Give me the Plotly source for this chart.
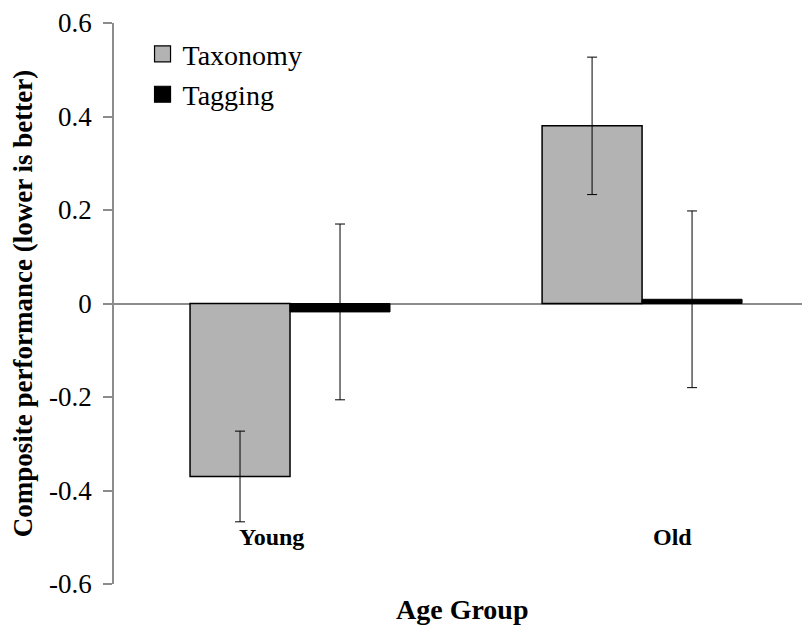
import plotly.graph_objects as go

categories = ["Young", "Old"]
taxonomy = [-0.370, 0.380]
taxonomy_err = [0.097, 0.147]
tagging = [-0.018, 0.009]
tagging_err = [0.188, 0.189]
y_ticks = [-0.6, -0.4, -0.2, 0, 0.2, 0.4, 0.6]
y_ticklabels = ["-0.6", "-0.4", "-0.2", "0", "0.2", "0.4", "0.6"]

SERIF = "Liberation Serif, Times New Roman, serif"

fig = go.Figure()
fig.add_trace(go.Bar(
    x=categories, y=taxonomy, name="Taxonomy", showlegend=False,
    marker=dict(color="#b3b3b3", line=dict(color="black", width=1.5)),
    error_y=dict(type="data", array=taxonomy_err, color="black", thickness=1, width=5),
))
fig.add_trace(go.Bar(
    x=categories, y=tagging, name="Tagging", showlegend=False,
    marker=dict(color="black", line=dict(color="black", width=1)),
    error_y=dict(type="data", array=tagging_err, color="black", thickness=1, width=5),
))
# legend proxies
fig.add_trace(go.Scatter(x=[None], y=[None], mode="markers", name="Taxonomy",
                         legendgroup="a",
                         marker=dict(symbol="square", size=16, color="#b3b3b3",
                                     line=dict(color="black", width=1.2))))
fig.add_trace(go.Scatter(x=[None], y=[None], mode="markers", name="Tagging",
                         legendgroup="b",
                         marker=dict(symbol="square", size=16, color="black",
                                     line=dict(color="black", width=1.2))))

for cat, shift in zip(categories, [-19, 30]):
    fig.add_annotation(x=cat, y=-0.5, xref="x", yref="y", text="<b>%s</b>" % cat,
                       showarrow=False, xshift=shift,
                       font=dict(family=SERIF, size=24, color="black"))

fig.add_annotation(x=0.5, y=-0.046, xref="paper", yref="paper", text="<b>Age Group</b>",
                   showarrow=False, yanchor="middle",
                   font=dict(family=SERIF, size=28, color="black"))

fig.update_layout(
    width=802, height=617,
    margin=dict(l=106, r=0, t=12, b=41),
    plot_bgcolor="white", paper_bgcolor="white",
    barmode="group", bargap=0.432, bargroupgap=0,
    font=dict(family=SERIF, color="black"),
    showlegend=True,
    legend=dict(x=0.041, y=0.989, xanchor="left", yanchor="top",
                bgcolor="rgba(0,0,0,0)", font=dict(family=SERIF, size=28),
                itemwidth=30, tracegroupgap=1, traceorder="grouped"),
    xaxis=dict(range=[-0.5, 1.477], showticklabels=False, showline=False,
               ticks="", showgrid=False, zeroline=False),
    yaxis=dict(range=[-0.6, 0.6], tickvals=y_ticks, ticktext=y_ticklabels,
               showgrid=False, zeroline=True, zerolinecolor="#8c8c8c", zerolinewidth=1.5,
               showline=True, linecolor="#8c8c8c", linewidth=1.5,
               ticks="outside", ticklen=9, tickcolor="#8c8c8c", tickwidth=1.5,
               ticklabeloverflow="allow", ticklabelstandoff=6,
               tickfont=dict(family=SERIF, size=27, color="black"),
               title=dict(text="<b>Composite performance (lower is better)</b>",
                          font=dict(family=SERIF, size=27, color="black"), standoff=10)),
)

fig.write_html("out.html")
